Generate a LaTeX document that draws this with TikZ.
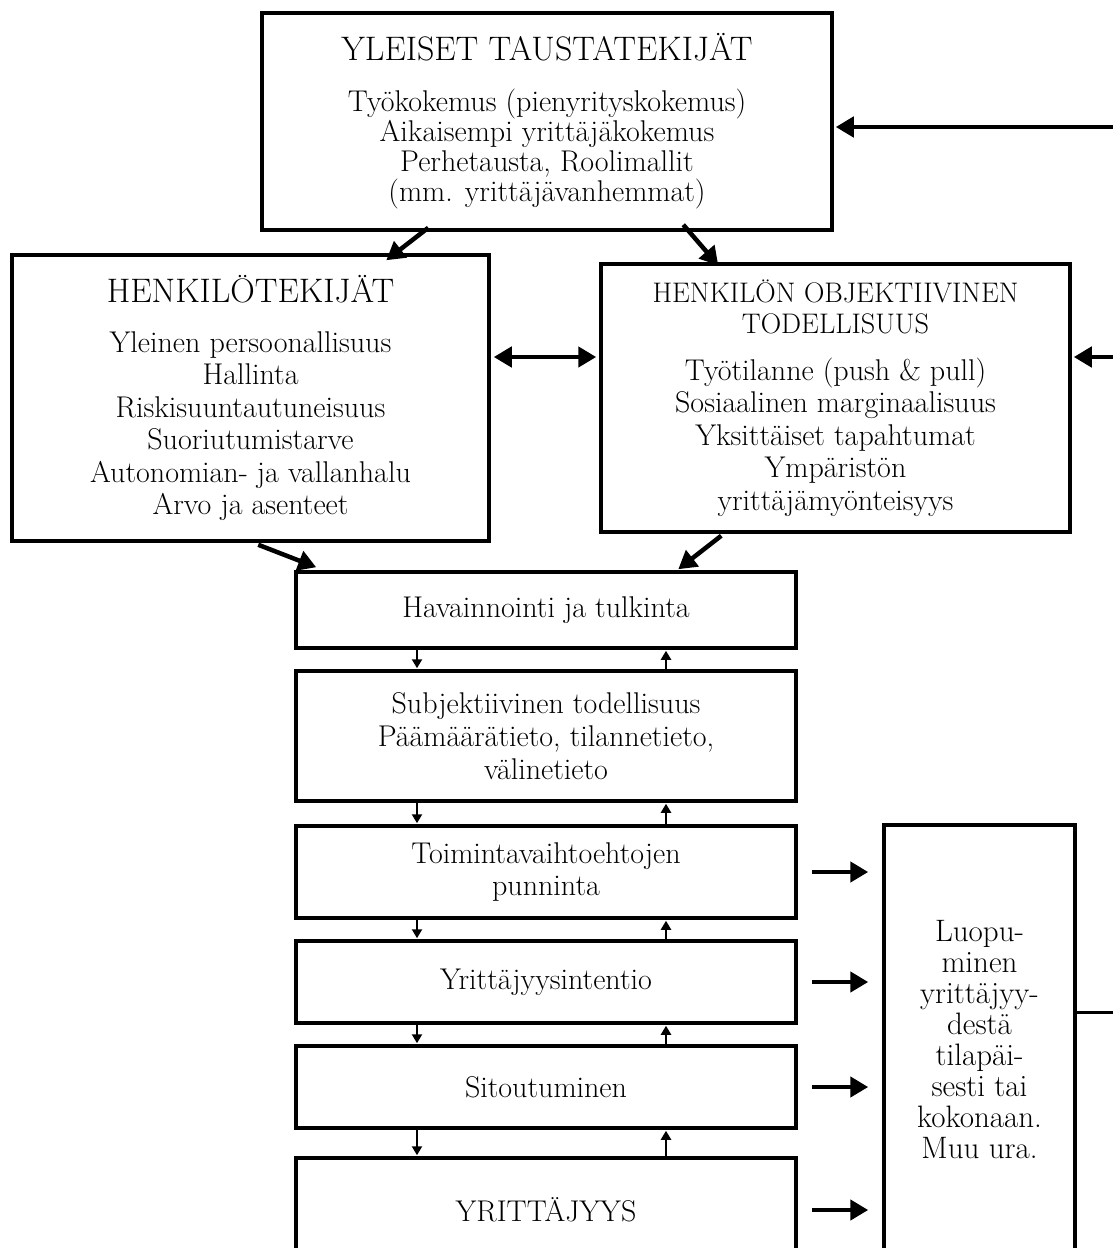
\documentclass[tikz,border=0pt]{standalone}
\usetikzlibrary{arrows.meta,calc}
\begin{document}
\begin{tikzpicture}[x=1pt,y=-1pt,
  box/.style={draw, line width=3.5pt, align=center, inner sep=0pt,
    font=\fontsize{30}{32.5}\selectfont},
  big/.style={line width=4.5pt, -{Triangle[length=18pt,width=20pt]}},
  dbl/.style={line width=4.5pt, {Triangle[length=18pt,width=20pt]}-{Triangle[length=18pt,width=20pt]}},
  small/.style={line width=2.2pt, -{Triangle[length=9pt,width=10pt]}},
  plain/.style={line width=3pt}
]
\useasboundingbox (0,0) rectangle (1113,1248);
\fill[white] (0,0) rectangle (1113,1248);
\clip (0,0) rectangle (1113,1248);

% top box
\node[box, minimum width=570pt, minimum height=217pt, font=\fontsize{30}{30}\selectfont] (yleiset) at (547,121.5)
  {{\fontsize{34}{30}\selectfont YLEISET TAUSTATEKIJÄT}\\[21pt]
   Työkokemus (pienyrityskokemus)\\
   Aikaisempi yrittäjäkokemus\\
   Perhetausta, Roolimallit\\
   (mm. yrittäjävanhemmat)};

\node[box, minimum width=477pt, minimum height=286pt] (henkilo) at (250.5,398)
  {{\fontsize{34}{32.5}\selectfont HENKILÖTEKIJÄT}\\[17pt]
   Yleinen persoonallisuus\\
   Hallinta\\
   Riskisuuntautuneisuus\\
   Suoriutumistarve\\
   Autonomian- ja vallanhalu\\
   Arvo ja asenteet};

\node[box, minimum width=469pt, minimum height=268pt] (objektiivinen) at (835.5,398)
  {{\fontsize{28.3}{31}\selectfont HENKILÖN OBJEKTIIVINEN}\\[-1.5pt]
   {\fontsize{28.3}{31}\selectfont TODELLISUUS}\\[14pt]
   Työtilanne (push \& pull)\\
   Sosiaalinen marginaalisuus\\
   Yksittäiset tapahtumat\\
   Ympäristön\\
   yrittäjämyönteisyys};

% process column
\node[box, minimum width=500pt, minimum height=76pt] (hav) at (546,610) {Havainnointi ja tulkinta};
\node[box, minimum width=500pt, minimum height=130pt, font=\fontsize{30}{33}\selectfont] (subj) at (546,736)
  {Subjektiivinen todellisuus\\ Päämäärätieto, tilannetieto,\\ välinetieto};
\node[box, minimum width=500pt, minimum height=92pt] (toim) at (546,872)
  {Toimintavaihtoehtojen\\ punninta};
\node[box, minimum width=500pt, minimum height=82pt] (int) at (546,982) {Yrittäjyysintentio};
\node[box, minimum width=500pt, minimum height=82pt] (sit) at (546,1087) {Sitoutuminen};
\node[box, minimum width=500pt, minimum height=104pt] (yr) at (546,1210) {YRITTÄJYYS};

\node[box, minimum width=191pt, minimum height=430pt, font=\fontsize{31}{31}\selectfont] (luop) at (979.5,1040)
  {Luopu-\\ minen\\ yrittäjyy-\\ destä\\ tilapäi-\\ sesti tai\\ kokonaan.\\ Muu ura.};

% arrows from top box
\draw[big] ($(yleiset.south west)+(168,-4)$) -- ($(henkilo.north west)+(376,7)$);
\draw[big] ($(yleiset.south west)+(423,-7)$) -- ($(objektiivinen.north west)+(119,3)$);
% arrows into havainnointi
\draw[big] ($(henkilo.south west)+(248,2)$) -- ($(hav.north west)+(22,-3)$);
\draw[big] ($(objektiivinen.south west)+(122,2)$) -- ($(hav.north west)+(384,-1)$);
% double arrow
\coordinate (d1) at ([xshift=3pt,yshift=41pt]henkilo.east);
\draw[dbl] (d1) -- ([xshift=-3pt]d1 -| objektiivinen.west);

% feedback from the right edge
\coordinate (fb1) at (1113,127);
\coordinate (fb2) at (1113,357);
\coordinate (fb3) at (1113,1012);
\draw[big] (fb1) -- ([xshift=2pt]fb1 -| yleiset.east);
\draw[big] (fb2) -- ([xshift=2pt]fb2 -| objektiivinen.east);
\draw[plain] (fb3 -| luop.east) -- (fb3);

% small arrows between process boxes
\coordinate (cd) at (417,0);
\coordinate (cu) at (666,0);
\foreach \a/\b in {hav/subj, subj/toim, toim/int, int/sit, sit/yr}{
  \draw[small] (\a.south -| cd) -- ([yshift=1pt]\b.north -| cd);
  \draw[small] (\b.north -| cu) -- ([yshift=-1pt]\a.south -| cu);
}

% arrows to luopuminen
\foreach \n in {toim, int, sit, yr}{
  \draw[big] ([xshift=14pt]\n.east) -- ([xshift=-14pt]\n.east -| luop.west);
}
\end{tikzpicture}
\end{document}
